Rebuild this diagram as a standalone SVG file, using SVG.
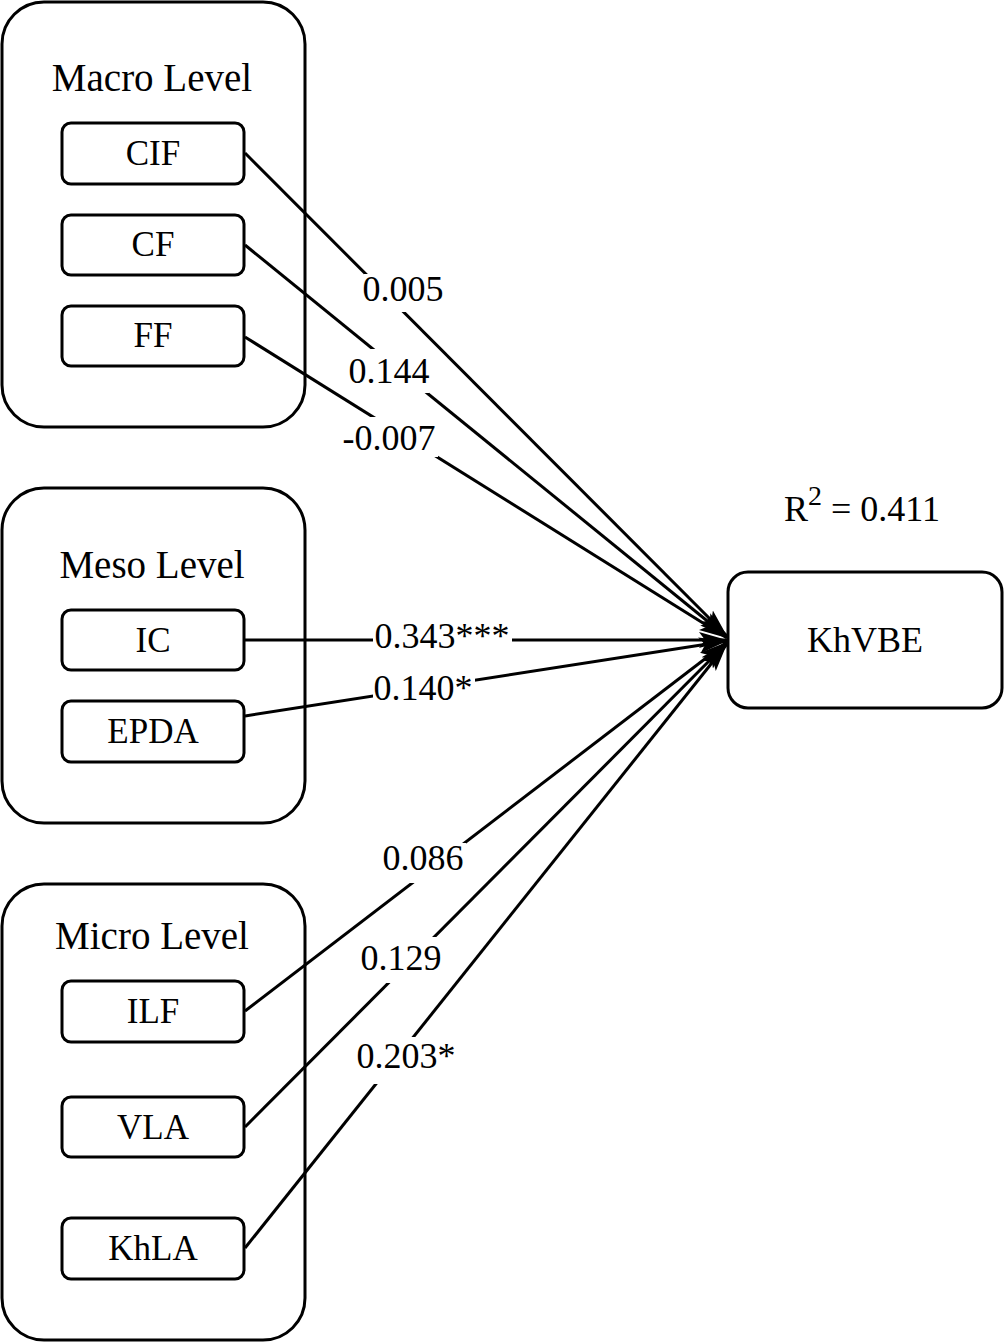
<svg xmlns="http://www.w3.org/2000/svg" width="1004" height="1342" viewBox="0 0 1004 1342">
<defs>
<marker id="ah" markerUnits="userSpaceOnUse" markerWidth="30" markerHeight="20" refX="28" refY="10" orient="auto">
<path d="M0,2 L28,10 L0,18 L6,10 Z" fill="#000"/>
</marker>
<style>
text{font-family:"Liberation Serif","Times New Roman",serif;fill:#000;text-anchor:middle}
.grp{fill:#fff;stroke:#000;stroke-width:3}
.box{fill:#fff;stroke:#000;stroke-width:3}
.title{font-size:39px}
.nt{font-size:35px}
.lbl{font-size:36px}
.bg{fill:#fff;stroke:none}
.con{stroke:#000;stroke-width:3;fill:none;marker-end:url(#ah)}
</style>
</defs>
<rect width="1004" height="1342" fill="#fff"/>

<g id="macro">
<rect class="grp" x="2" y="2" width="303" height="425" rx="42"/>
<text class="title" x="152" y="91">Macro Level</text>
</g>
<g id="meso">
<rect class="grp" x="2" y="488" width="303" height="335" rx="42"/>
<text class="title" x="152" y="578">Meso Level</text>
</g>
<g id="micro">
<rect class="grp" x="2" y="884" width="303" height="456" rx="42"/>
<text class="title" x="152" y="949">Micro Level</text>
</g>

<g id="CIF"><rect class="box" x="62" y="123" width="182" height="61" rx="9"/><text class="nt" x="153" y="165">CIF</text></g>
<g id="CF"><rect class="box" x="62" y="215" width="182" height="60" rx="9"/><text class="nt" x="153" y="256">CF</text></g>
<g id="FF"><rect class="box" x="62" y="306" width="182" height="60" rx="9"/><text class="nt" x="153" y="347">FF</text></g>
<g id="IC"><rect class="box" x="62" y="610" width="182" height="60" rx="9"/><text class="nt" x="153" y="652">IC</text></g>
<g id="EPDA"><rect class="box" x="62" y="701" width="182" height="61" rx="9"/><text class="nt" x="153" y="743">EPDA</text></g>
<g id="ILF"><rect class="box" x="62" y="981" width="182" height="61" rx="9"/><text class="nt" x="153" y="1023">ILF</text></g>
<g id="VLA"><rect class="box" x="62" y="1097" width="182" height="60" rx="9"/><text class="nt" x="153" y="1139">VLA</text></g>
<g id="KhLA"><rect class="box" x="62" y="1218" width="182" height="61" rx="9"/><text class="nt" x="153" y="1260">KhLA</text></g>

<g id="KhVBE">
<rect class="box" x="728" y="572" width="274" height="136" rx="20"/>
<text class="lbl" x="865" y="652">KhVBE</text>
</g>
<text id="r2" class="lbl" x="862" y="521">R<tspan font-size="28" dy="-16">2</tspan><tspan dy="16"> = 0.411</tspan></text>

<g id="connectors">
<line class="con" x1="245" y1="153" x2="727" y2="636"/>
<line class="con" x1="245" y1="245" x2="727" y2="637"/>
<line class="con" x1="245" y1="337" x2="727" y2="638"/>
<line class="con" x1="245" y1="640" x2="727" y2="640"/>
<line class="con" x1="245" y1="716" x2="727" y2="641"/>
<line class="con" x1="245" y1="1011" x2="727" y2="642"/>
<line class="con" x1="245" y1="1127" x2="727" y2="643"/>
<line class="con" x1="245" y1="1248" x2="727" y2="644"/>
</g>

<g id="labels">
<rect class="bg" x="364" y="274" width="82" height="38"/>
<text class="lbl" x="403" y="301">0.005</text>
<rect class="bg" x="348" y="349" width="81" height="44"/>
<text class="lbl" x="389" y="383">0.144</text>
<rect class="bg" x="341" y="417" width="97" height="40"/>
<text class="lbl" x="389" y="450">-0.007</text>
<rect class="bg" x="373" y="620" width="139" height="38"/>
<text class="lbl" x="442" y="648">0.343***</text>
<rect class="bg" x="373" y="672" width="102" height="38"/>
<text class="lbl" x="423" y="700">0.140*</text>
<rect class="bg" x="381" y="843" width="85" height="40"/>
<text class="lbl" x="423" y="870">0.086</text>
<rect class="bg" x="360" y="937" width="82" height="46"/>
<text class="lbl" x="401" y="970">0.129</text>
<rect class="bg" x="356" y="1037" width="101" height="47"/>
<text class="lbl" x="406" y="1068">0.203*</text>
</g>
</svg>
